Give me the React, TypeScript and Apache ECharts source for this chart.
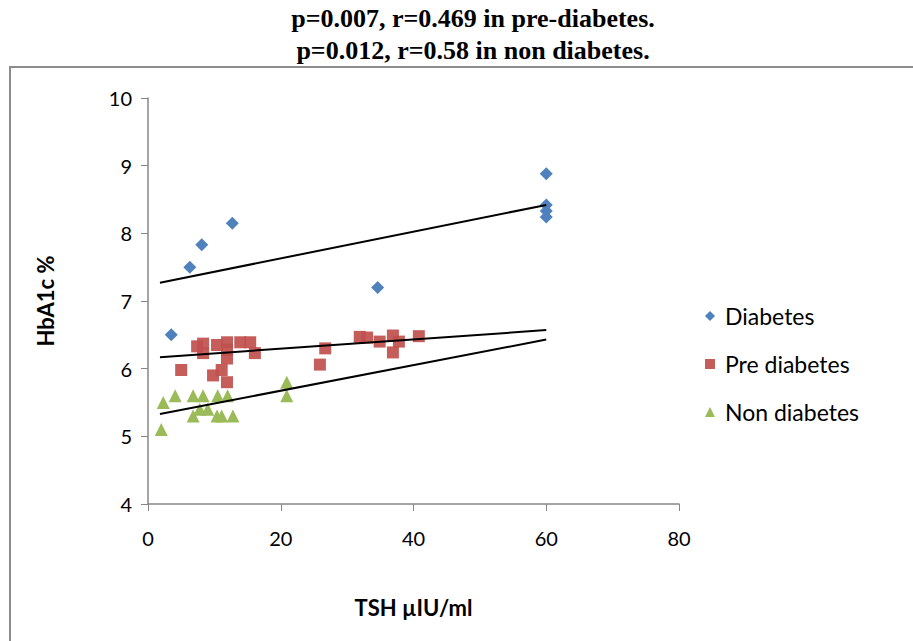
import React, { useEffect, useRef } from "react";
import * as echarts from "echarts";

const titleLines = ["p=0.007, r=0.469 in pre-diabetes.", "p=0.012, r=0.58 in non diabetes."];
const xTitle = "TSH µIU/ml";
const yTitle = "HbA1c %";
const seriesNames = ["Diabetes", "Pre diabetes", "Non diabetes"];

const diabetesX = [3.5, 6.3, 8.1, 12.7, 34.6, 60, 60, 60, 60];
const diabetesY = [6.5, 7.5, 7.83, 8.15, 7.2, 8.88, 8.42, 8.33, 8.24];

const preX = [5.0, 7.4, 8.3, 8.3, 10.4, 11.9, 11.9, 13.9, 15.4, 16.1, 11.9, 9.8, 11.1, 11.9, 26.7, 25.9, 31.9, 33.0, 34.9, 36.9, 36.9, 37.8, 40.8];
const preY = [5.98, 6.33, 6.37, 6.23, 6.35, 6.39, 6.28, 6.39, 6.39, 6.23, 6.15, 5.9, 5.98, 5.8, 6.3, 6.06, 6.47, 6.46, 6.4, 6.49, 6.24, 6.4, 6.48];

const nonX = [2.0, 2.3, 4.1, 6.8, 8.3, 6.8, 7.8, 9.0, 10.5, 12.0, 10.4, 11.1, 12.8, 20.9, 20.9];
const nonY = [5.1, 5.5, 5.6, 5.6, 5.6, 5.3, 5.4, 5.4, 5.6, 5.6, 5.3, 5.3, 5.3, 5.8, 5.6];

const trendX = [1.8, 60];
const diabetesTrendY = [7.27, 8.42];
const preTrendY = [6.17, 6.57];
const nonTrendY = [5.33, 6.43];

const colors = ["#4F81BD", "#C0504D", "#9BBB59"];
const symbols = ["diamond", "rect", "triangle"];
const labelFont = "Lato, 'Open Sans', sans-serif";

const zip = (xs: number[], ys: number[]) => xs.map((x, i) => [x, ys[i]]);

export default function App() {
  const ref = useRef<HTMLDivElement>(null);
  useEffect(() => {
    if (!ref.current) return;
    const chart = echarts.init(ref.current, undefined, { renderer: "svg" });
    const scatterData = [zip(diabetesX, diabetesY), zip(preX, preY), zip(nonX, nonY)];
    const trends = [diabetesTrendY, preTrendY, nonTrendY];
    chart.setOption({
      animation: false,
      backgroundColor: "#ffffff",
      title: {
        text: titleLines.join("\n"),
        left: 468,
        top: 0,
        padding: [2, 5, 5, 5],
        textAlign: "center",
        textStyle: {
          fontFamily: "'Liberation Serif', 'Times New Roman', serif",
          fontWeight: "bold",
          fontSize: 26,
          lineHeight: 32,
          color: "#000",
        },
      },
      graphic: [
        {
          type: "rect",
          shape: { x: 10, y: 67, width: 1000, height: 1000 },
          style: { fill: "none", stroke: "#8c8c8c", lineWidth: 2 },
          silent: true,
        },
      ],
      grid: { left: 148, right: 234, top: 98, bottom: 137 },
      legend: {
        orient: "vertical",
        left: 700,
        top: 299,
        itemGap: 24,
        itemWidth: 10,
        itemHeight: 10,
        data: seriesNames.map((n, i) => ({ name: n, icon: symbols[i] })),
        textStyle: { fontFamily: labelFont, fontSize: 23, lineHeight: 24, color: "#000", padding: [0, 0, 0, 5] },
      },
      xAxis: {
        type: "value",
        min: 0,
        max: 80,
        interval: 20,
        name: xTitle,
        nameLocation: "middle",
        nameGap: 92,
        nameTextStyle: { fontFamily: labelFont, fontWeight: "bold", fontSize: 22, color: "#000" },
        axisLine: { show: true, onZero: false, lineStyle: { color: "#868686", width: 1.5 } },
        axisTick: { show: true, length: 7, lineStyle: { color: "#868686" } },
        axisLabel: { fontFamily: labelFont, fontSize: 20, color: "#000", margin: 24 },
        splitLine: { show: false },
      },
      yAxis: {
        type: "value",
        min: 4,
        max: 10,
        interval: 1,
        name: yTitle,
        nameLocation: "middle",
        nameGap: 92,
        nameTextStyle: { fontFamily: labelFont, fontWeight: "bold", fontSize: 22, color: "#000" },
        axisLine: { show: true, onZero: false, lineStyle: { color: "#868686", width: 1.5 } },
        axisTick: { show: true, length: 7, lineStyle: { color: "#868686" } },
        axisLabel: { fontFamily: labelFont, fontSize: 20, color: "#000", margin: 16 },
        splitLine: { show: false },
      },
      series: [
        ...seriesNames.map((name, i) => ({
          name,
          type: "scatter",
          symbol: symbols[i],
          symbolSize: i === 0 ? 13 : i === 1 ? 12 : 13,
          itemStyle: { color: colors[i], opacity: i === 1 ? 0.92 : 1 },
          data: scatterData[i],
          z: 3,
        })),
        ...trends.map((ty, i) => ({
          name: seriesNames[i] + " trend",
          type: "line",
          showSymbol: false,
          symbol: "none",
          lineStyle: { color: "#000", width: 2 },
          data: zip(trendX, ty),
          z: 4,
        })),
      ],
    });
    return () => chart.dispose();
  }, []);
  return <div ref={ref} style={{ position: "fixed", left: 0, top: 0, width: 913, height: 641 }} />;
}
